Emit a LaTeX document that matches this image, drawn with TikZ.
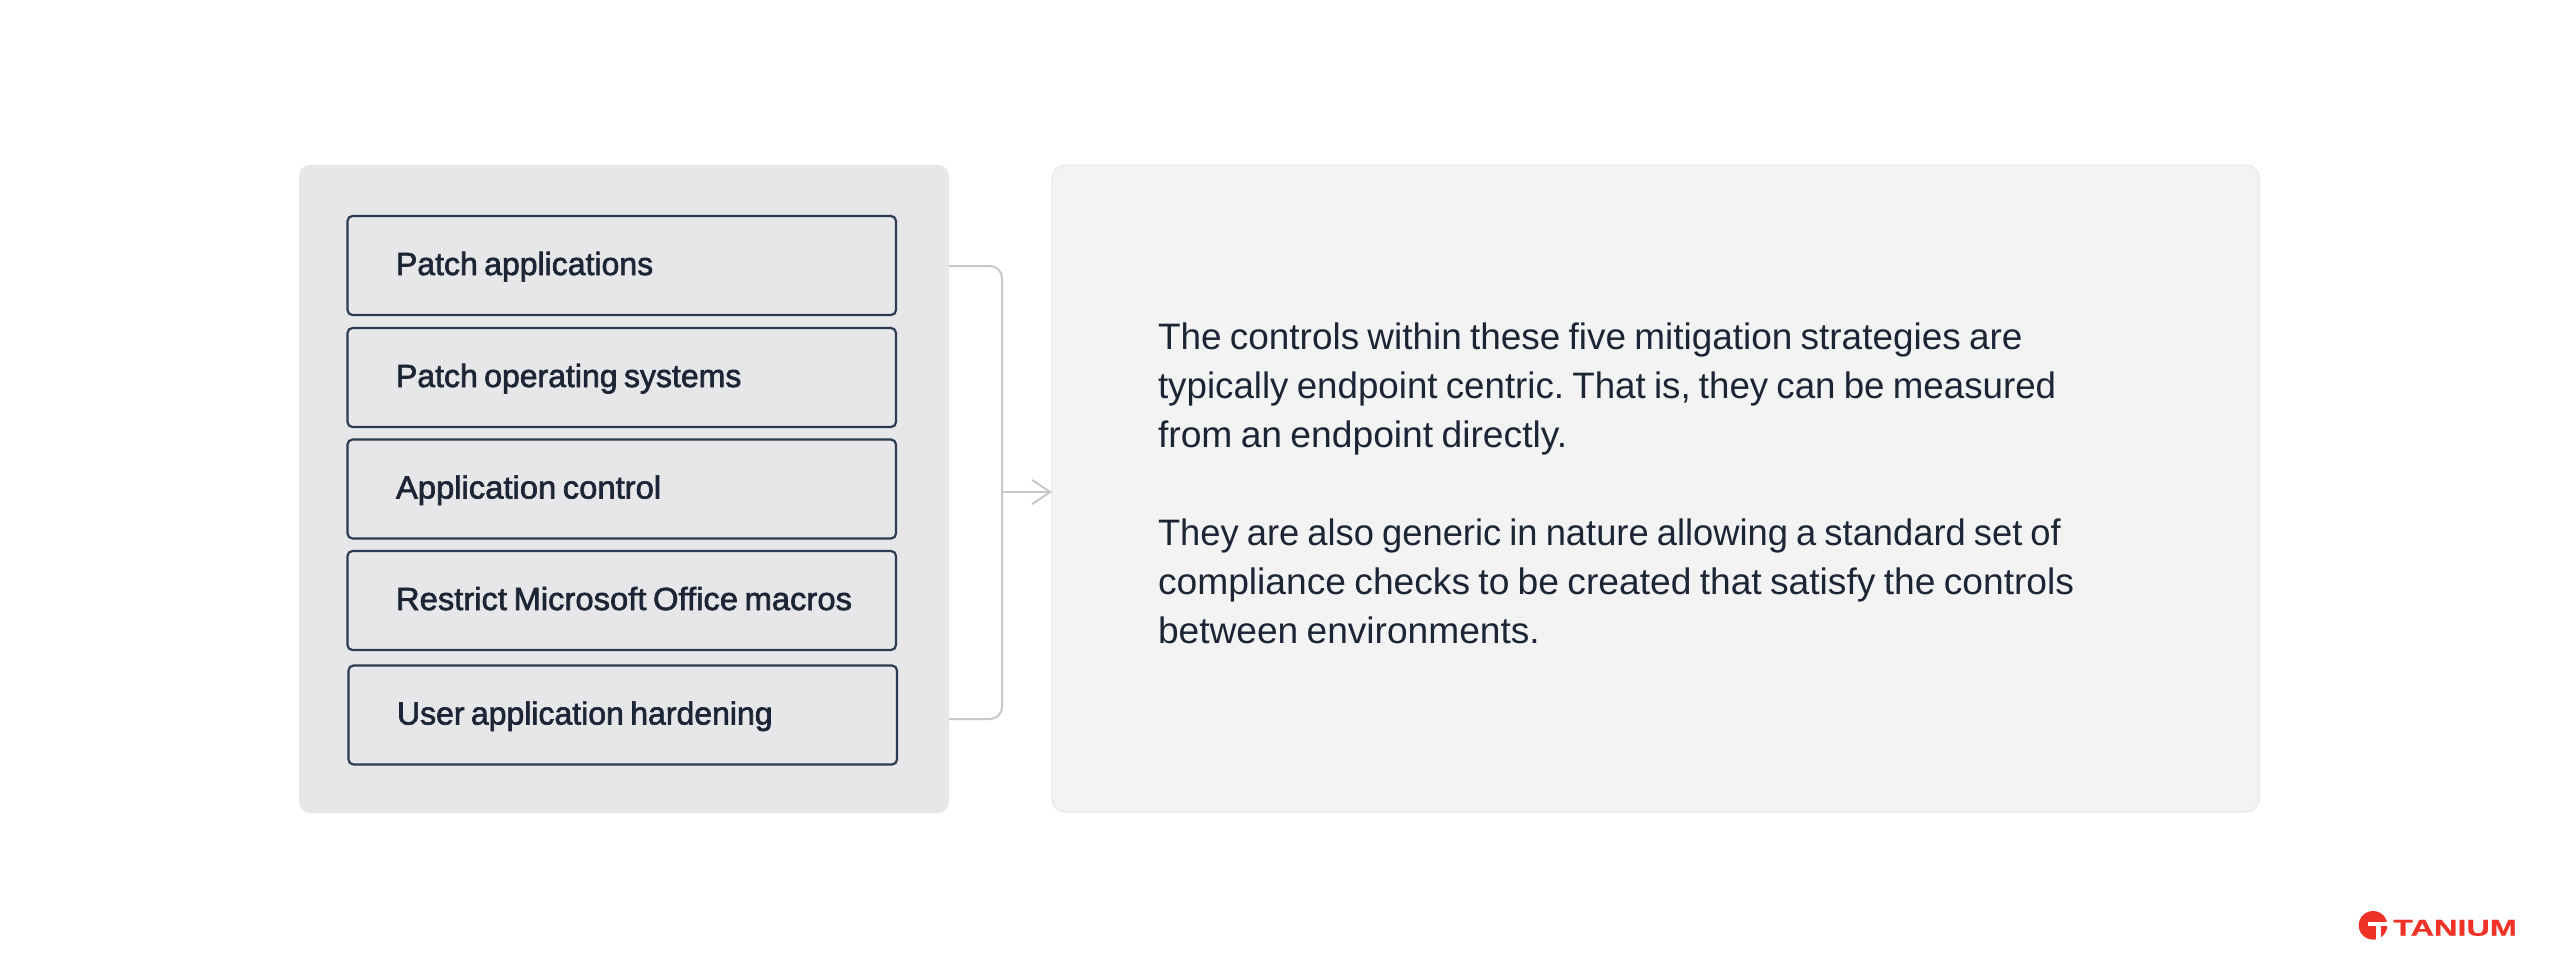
\documentclass[tikz,border=0pt]{standalone}
\usepackage{fontspec}
\usetikzlibrary{arrows.meta}
\setmainfont[WordSpace=0.8]{Liberation Sans}
\newfontfamily\labfont[FakeBold=2]{Liberation Sans}
\newfontfamily\logofont[FakeStretch=1.41,FakeBold=0.6]{Liberation Sans Bold}
\definecolor{ink}{HTML}{1C2536}
\definecolor{edge}{HTML}{2B3B52}
\definecolor{wire}{HTML}{C8C8CA}
\definecolor{panelA}{HTML}{E7E7E9}
\definecolor{panelB}{HTML}{F3F3F3}
\definecolor{panelBe}{HTML}{E9E9EA}
\definecolor{logored}{HTML}{EE3228}
\newcommand{\fitline}[2]{\scalebox{#1}[1]{#2}}
\newcommand{\boxlabel}[2][1]{\hspace*{48.5pt}\scalebox{#1}[1]{\spaceskip=0.2em plus 0pt minus 0pt\relax #2}}
\tikzset{
  panelleft/.style={fill=panelA,draw=none,rounded corners=11pt,inner sep=0pt,outer sep=0pt,anchor=north west,minimum width=650pt,minimum height=648pt},
  panelright/.style={fill=panelB,draw=panelBe,line width=1.2pt,rounded corners=13pt,inner sep=0pt,outer sep=0pt,anchor=north west,minimum width=1207pt,minimum height=647pt},
  itembox/.style={draw=edge,line width=2.2pt,rounded corners=5pt,anchor=north west,minimum width=548.5pt,minimum height=99pt,inner sep=0pt,outer sep=0pt,text width=548.5pt,align=left,
    text height=19pt,text depth=0pt,text=ink,font=\labfont\fontsize{32}{32}\selectfont},
  paratext/.style={anchor=north west,inner sep=0pt,outer sep=0pt,align=left,text=ink,font=\fontsize{36.8}{49}\selectfont\frenchspacing},
  wireline/.style={draw=wire,line width=2pt},
}
\begin{document}
\begin{tikzpicture}[x=1pt,y=-1pt]
\useasboundingbox (0,0) rectangle (2560,978);
\fill[white] (0,0) rectangle (2560,978);
\node[panelleft] (left) at (299,165) {};
\node[panelright] (right) at (1052,165) {};
\node[itembox] (b1) at (347.5,216) {\boxlabel{Patch applications}};
\node[itembox] (b2) at (347.5,328) {\boxlabel{Patch operating systems}};
\node[itembox] (b3) at (347.5,439.5) {\boxlabel[1.024]{Application control}};
\node[itembox] (b4) at (347.5,551) {\boxlabel[1.024]{Restrict Microsoft Office macros}};
\node[itembox] (b5) at (348.5,665.5) {\boxlabel{User application hardening}};
\node[paratext] (p1) at (1158,323) {\fitline{1.004}{The controls within these five mitigation strategies are}\\\fitline{0.998}{typically endpoint centric. That is, they can be measured}\\\fitline{1.012}{from an endpoint directly.}};
\node[paratext] (p2) at (1158,519) {\fitline{0.9875}{They are also generic in nature allowing a standard set of}\\\fitline{1.011}{compliance checks to be created that satisfy the controls}\\\fitline{1.009}{between environments.}};
\coordinate (w1) at (left.east |- 0,266);
\coordinate (w2) at (1002,266);
\coordinate (w3) at (1002,719);
\coordinate (w4) at (left.east |- 0,719);
\coordinate (w5) at (1002,492);
\draw[wireline,rounded corners=12pt] (w1) -- (w2) -- (w3) -- (w4);
\draw[wireline,-{Straight Barb[length=18pt,width=24pt,line width=2pt]}] (w5) -- (right.west |- w5);
% logo
\fill[logored] (2373,925.3) circle (14.3);
\fill[white] (2367.5,921.5) rectangle (2389,925.8);
\fill[white] (2376,925) rectangle (2381,941);
\node[anchor=base west,inner sep=0pt,text=logored,font=\logofont\fontsize{23}{23}\selectfont] (logo) at (2393,935.7) {TANIUM};
\end{tikzpicture}
\end{document}
